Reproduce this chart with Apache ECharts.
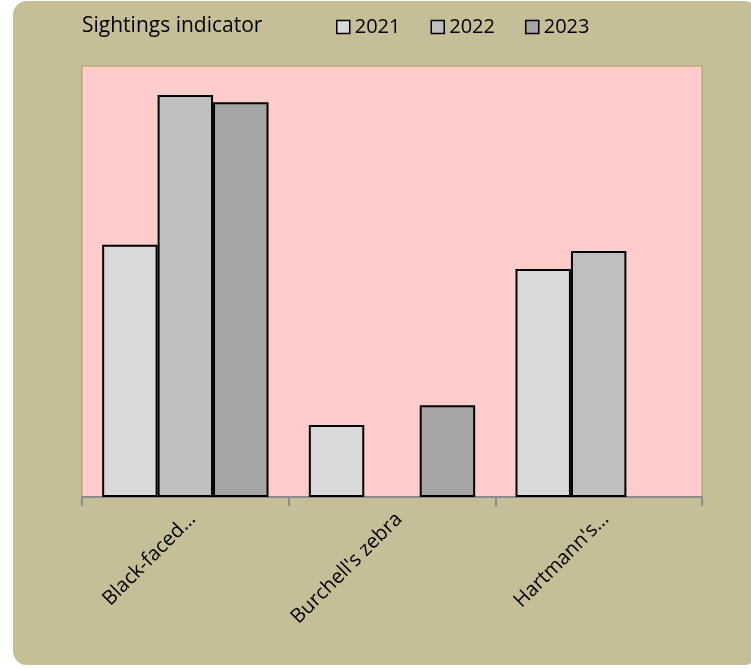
<!DOCTYPE html>
<html><head><meta charset="utf-8">
<script src="https://cdn.jsdelivr.net/npm/echarts@6/dist/echarts.min.js"></script>
<style>html,body{margin:0;padding:0;background:#fff;}#c{width:751px;height:669px;}</style>
</head><body><div id="c"></div>
<script>
const categories = ["Black-faced\u2026", "Burchell's zebra", "Hartmann's\u2026"];
const seriesNames = ["2021", "2022", "2023"];
const v2021 = [58.5, 16.7, 52.9];
const v2022 = [93.3, null, 57.1];
const v2023 = [91.6, 21.3, null];
const colors = ["#D9D9D9", "#BFBFBF", "#A6A6A6"];
const FONT = "'Open Sans', sans-serif";
const chart = echarts.init(document.getElementById('c'), null, {renderer: 'canvas'});
const vals = [v2021, v2022, v2023].map(a => a.map(v => v == null ? '-' : v));
chart.setOption({
  animation: false,
  backgroundColor: '#fff',
  graphic: [{type: 'rect', z: -10, shape: {x: 13, y: 1, width: 745, height: 664, r: 14}, style: {fill: '#C5BE97'}}],
  title: {text: 'Sightings indicator', left: 77, top: 11, textStyle: {fontFamily: FONT, fontSize: 21, fontWeight: 'normal', color: '#000'}},
  legend: {left: 331, top: 12, itemWidth: 13, itemHeight: 13, itemGap: 30, icon: 'rect',
    itemStyle: {borderColor: '#000', borderWidth: 1.5},
    textStyle: {fontFamily: FONT, fontSize: 20, color: '#000', padding: [0,0,0,0]},
    data: seriesNames},
  grid: {left: 82, top: 66, width: 620, height: 431, show: true, backgroundColor: '#FFCCCC', borderColor: '#A59E66', borderWidth: 1},
  xAxis: {type: 'category', data: categories,
    axisLine: {lineStyle: {color: '#8C8C8C', width: 2}},
    axisTick: {show: true, length: 9, lineStyle: {color: '#8C8C8C', width: 2}},
    axisLabel: {rotate: 45, margin: 12, align: 'right', verticalAlign: 'top', fontFamily: FONT, fontSize: 20, color: '#000', interval: 0}},
  yAxis: {type: 'value', min: 0, max: 100, show: false, splitLine: {show: false}},
  series: seriesNames.map((n, i) => ({
    name: n, type: 'bar', data: vals[i], barGap: '0%', barCategoryGap: '19.5%',
    itemStyle: {color: colors[i], borderColor: '#000', borderWidth: 2}
  }))
});
</script></body></html>
